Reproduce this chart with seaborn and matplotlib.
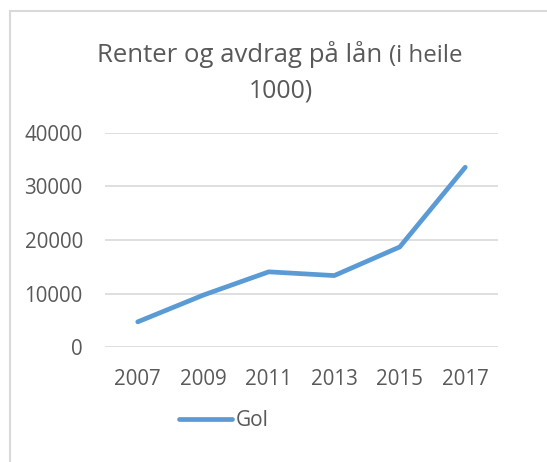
import matplotlib
matplotlib.use("Agg")
import matplotlib.pyplot as plt
import matplotlib.patches as patches
import seaborn as sns
import pandas as pd

years = ["2007", "2009", "2011", "2013", "2015", "2017"]
gol = [4700, 9700, 14050, 13350, 18700, 33600]
series_name = "Gol"

TXT = "#595959"
GRID = "#D9D9D9"
BLUE = "#5B9BD5"

sns.set_theme(style="white")
plt.rcParams["font.family"] = ["Open Sans", "DejaVu Sans"]

df = pd.DataFrame({"year": years, "value": gol, "serie": series_name})

W, H = 547, 462
fig = plt.figure(figsize=(W / 100, H / 100), dpi=100)
ax = fig.add_axes([105 / W, 1 - 347 / H, (498 - 105) / W, (347 - 133) / H])

sns.lineplot(data=df, x="year", y="value", hue="serie", palette=[BLUE],
             linewidth=3.4, ax=ax, legend=False, sort=False)
for ln in ax.lines:
    ln.set_solid_capstyle("round")
    ln.set_solid_joinstyle("round")

ax.set_xlim(-0.5, len(years) - 0.5)
ax.set_ylim(0, 40000)
ax.set_yticks([0, 10000, 20000, 30000, 40000])
ax.yaxis.grid(True, color=GRID, linewidth=1.2)
ax.xaxis.grid(False)
ax.set_axisbelow(True)
for s in ax.spines.values():
    s.set_visible(False)
ax.tick_params(axis="both", length=0, labelsize=14.8, colors=TXT)
ax.tick_params(axis="y", pad=16)
ax.tick_params(axis="x", pad=15.5)
ax.set_xlabel("")
ax.set_ylabel("")

# title, mixed sizes like the original
t1 = fig.text(97 / W, 1 - 62 / H, "Renter og avdrag på lån ", fontsize=18.5,
              color=TXT, ha="left", va="baseline")
ax.annotate("(i heile", xy=(1, 0), xycoords=t1, fontsize=17.3, color=TXT,
            ha="left", va="bottom", annotation_clip=False)
fig.text(281 / W, 1 - 97 / H, "1000)", fontsize=17.8, color=TXT,
         ha="center", va="baseline")

# legend
handle = plt.Line2D([], [], color=BLUE, linewidth=3.4, solid_capstyle="round")
fig.legend([handle], [series_name], loc="center", bbox_to_anchor=(224 / W, 1 - 421 / H),
           frameon=False, fontsize=15, labelcolor=TXT, handlelength=2.5,
           handletextpad=0.2)

# chart border
fig.patches.append(patches.Rectangle((10 / W, -0.1), 1.2, 1 - 11 / H + 0.1,
                                     transform=fig.transFigure, fill=False,
                                     edgecolor=GRID, linewidth=1.5))

fig.savefig("out.png", dpi=100)
